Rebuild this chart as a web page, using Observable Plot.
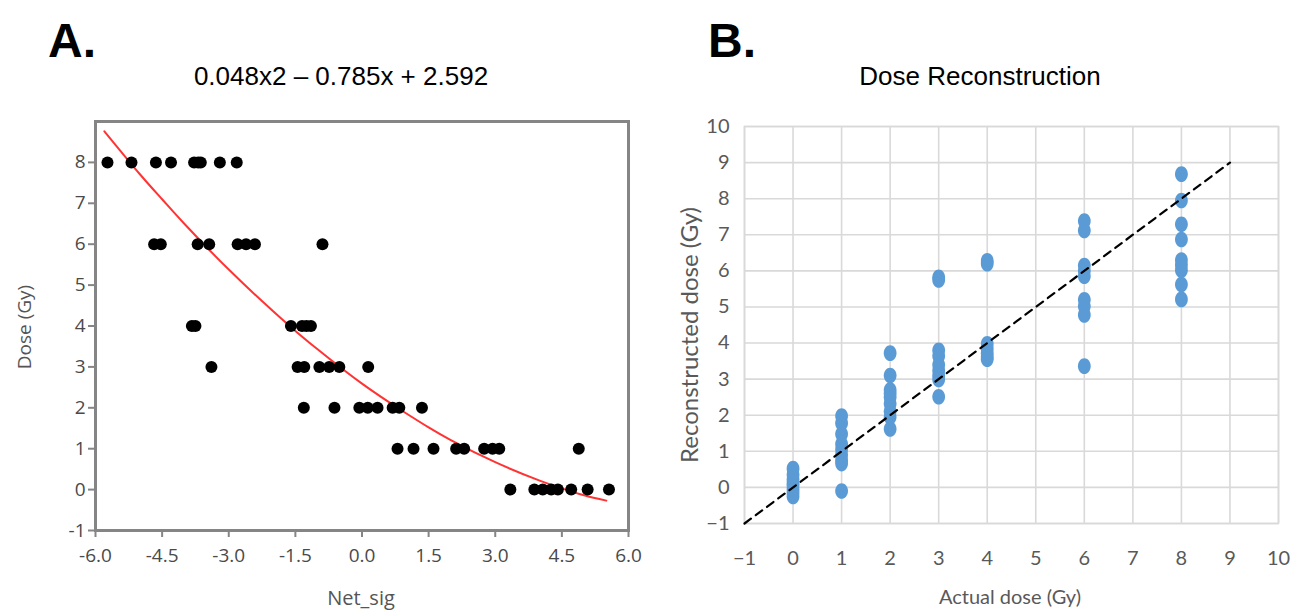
<!DOCTYPE html>
<html>
<head>
<meta charset="utf-8">
<script src="https://cdn.jsdelivr.net/npm/d3@7"></script>
<script src="https://cdn.jsdelivr.net/npm/@observablehq/plot@0.6"></script>
<style>
  html, body { margin: 0; padding: 0; background: white; }
  #wrap { position: relative; width: 1292px; height: 610px; overflow: hidden; background: white; }
  .abs { position: absolute; white-space: nowrap; transform: translate(-50%, -50%); }
  .panel { position: absolute; top: 0; }
</style>
</head>
<body>
<div id="wrap">
  <div id="panelA" class="panel" style="left:0px"></div>
  <div id="panelB" class="panel" style="left:646px"></div>
  <div class="abs" style="left:72px;top:40px;font:bold 48px 'Liberation Sans',Arial,sans-serif;color:#000">A.</div>
  <div class="abs" style="left:732px;top:40px;font:bold 48px 'Liberation Sans',Arial,sans-serif;color:#000">B.</div>
  <div class="abs" style="left:341px;top:76px;font:26px 'Liberation Sans',Arial,sans-serif;color:#000">0.048x2 – 0.785x + 2.592</div>
  <div class="abs" style="left:980px;top:76px;font:26px 'Liberation Sans',Arial,sans-serif;color:#000">Dose Reconstruction</div>
  <div class="abs" style="left:24px;top:327px;transform:translate(-50%,-50%) rotate(-90deg);font:19px 'Open Sans',sans-serif;color:#555">Dose (Gy)</div>
  <div class="abs" style="left:361px;top:597px;font:20px 'Open Sans',sans-serif;color:#555">Net_sig</div>
  <div class="abs" style="left:688px;top:335px;transform:translate(-50%,-50%) rotate(-90deg);font:24px Lato,sans-serif;color:#595959">Reconstructed dose (Gy)</div>
  <div class="abs" style="left:1010px;top:596px;font:20px Lato,sans-serif;color:#595959">Actual dose (Gy)</div>
</div>
<script>
// ---------- Panel A data ----------
const netSig = [
  -5.73, -5.19, -4.64, -4.30, -3.78, -3.69, -3.63, -3.20, -2.82,
  -4.68, -4.53, -3.70, -3.44, -2.80, -2.61, -2.41, -0.89,
  -3.83, -3.75, -1.60, -1.35, -1.25, -1.15,
  -3.39, -1.45, -1.30, -0.96, -0.74, -0.51, 0.14,
  -1.31, -0.62, -0.06, 0.13, 0.35, 0.69, 0.84, 1.35,
  0.80, 1.16, 1.61, 2.12, 2.30, 2.75, 2.94, 3.09, 4.88,
  3.34, 3.88, 4.07, 4.26, 4.41, 4.71, 5.08, 5.56
];
const doseA = [
  8, 8, 8, 8, 8, 8, 8, 8, 8,
  6, 6, 6, 6, 6, 6, 6, 6,
  4, 4, 4, 4, 4, 4,
  3, 3, 3, 3, 3, 3, 3,
  2, 2, 2, 2, 2, 2, 2, 2,
  1, 1, 1, 1, 1, 1, 1, 1, 1,
  0, 0, 0, 0, 0, 0, 0, 0
];
// fitted curve
const fitX = [-5.8, -5.0, -4.5, -4.0, -3.0, -2.0, -1.5, -1.0, 0.0, 1.0, 1.5, 2.0, 3.0, 4.0, 4.5, 5.0, 5.5];
const fitY = [8.76, 7.71, 7.10, 6.50, 5.38, 4.36, 3.88, 3.43, 2.59, 1.86, 1.52, 1.21, 0.67, 0.22, 0.03, -0.14, -0.27];
const xTicksA = [-6, -4.5, -3, -1.5, 0, 1.5, 3, 4.5, 6];
const yTicksA = [-1, 0, 1, 2, 3, 4, 5, 6, 7, 8];

// ---------- Panel B data ----------
const actualDose = [
  0, 0, 0, 0, 0, 0, 0, 0,
  1, 1, 1, 1, 1, 1, 1, 1, 1,
  2, 2, 2, 2, 2, 2, 2, 2, 2,
  3, 3, 3, 3, 3, 3, 3, 3, 3,
  4, 4, 4, 4, 4, 4, 4,
  6, 6, 6, 6, 6, 6, 6, 6, 6,
  8, 8, 8, 8, 8, 8, 8, 8, 8
];
const reconDose = [
  0.52, 0.35, 0.22, 0.12, 0.05, -0.05, -0.15, -0.25,
  1.98, 1.78, 1.48, 1.20, 1.05, 0.90, 0.75, 0.66, -0.10,
  3.72, 3.10, 2.70, 2.60, 2.50, 2.32, 2.10, 1.95, 1.62,
  5.82, 5.75, 3.80, 3.64, 3.40, 3.24, 3.10, 2.99, 2.51,
  6.28, 6.20, 3.98, 3.85, 3.72, 3.62, 3.55,
  7.38, 7.12, 6.15, 6.00, 5.85, 5.20, 5.02, 4.78, 3.36,
  8.68, 7.95, 7.29, 6.87, 6.30, 6.16, 6.02, 5.62, 5.21
];
const identityX = [-1, 9];
const identityY = [-1, 9];
const ticksB = [-1, 0, 1, 2, 3, 4, 5, 6, 7, 8, 9, 10];

// ---------- Panel A ----------
const ptsA = netSig.map((x, i) => ({x, y: doseA[i]}));
const fitA = fitX.map((x, i) => ({x, y: fitY[i]}));
const gray = "#858585";
const chartA = Plot.plot({
  width: 646, height: 610,
  marginLeft: 95, marginRight: 18, marginTop: 121, marginBottom: 80,
  x: {domain: [-6, 6], label: null},
  y: {domain: [-1, 9], label: null},
  style: {fontFamily: "'Open Sans', sans-serif", fontSize: "19px", color: "#4a4a4a", background: "white"},
  marks: [
    Plot.line(fitA, {x: "x", y: "y", stroke: "#ff3333", strokeWidth: 2, curve: "natural"}),
    Plot.dot(ptsA, {x: "x", y: "y", r: 6, fill: "#000", stroke: "none"}),
    Plot.frame({stroke: gray, strokeWidth: 3}),
    Plot.axisX({ticks: xTicksA, tickFormat: d => d.toFixed(1), tickSize: 7, tickPadding: 11, stroke: gray, strokeWidth: 2, fill: "#4a4a4a", fontSize: 19}),
    Plot.axisY({ticks: yTicksA, tickFormat: d => String(d), tickSize: 7, tickPadding: 3, stroke: gray, strokeWidth: 2, fill: "#4a4a4a", fontSize: 19})
  ]
});
document.getElementById("panelA").appendChild(chartA);

// ---------- Panel B ----------
const ellipse = {
  draw(ctx) {
    const rx = 6.4, ry = 7.8, k = 0.5523;
    ctx.moveTo(rx, 0);
    ctx.bezierCurveTo(rx, ry * k, rx * k, ry, 0, ry);
    ctx.bezierCurveTo(-rx * k, ry, -rx, ry * k, -rx, 0);
    ctx.bezierCurveTo(-rx, -ry * k, -rx * k, -ry, 0, -ry);
    ctx.bezierCurveTo(rx * k, -ry, rx, -ry * k, rx, 0);
    ctx.closePath();
  }
};
const ptsB = actualDose.map((x, i) => ({x, y: reconDose[i]}));
const lineB = identityX.map((x, i) => ({x, y: identityY[i]}));
const gridC = "#d9d9d9";
const chartB = Plot.plot({
  width: 646, height: 610,
  marginLeft: 98, marginRight: 14, marginTop: 126, marginBottom: 87,
  x: {domain: [-1, 10], label: null},
  y: {domain: [-1, 10], label: null},
  style: {fontFamily: "Lato, sans-serif", fontSize: "20px", color: "#595959", background: "white"},
  marks: [
    Plot.gridX({ticks: ticksB, stroke: gridC, strokeOpacity: 1, strokeWidth: 1.6}),
    Plot.gridY({ticks: ticksB, stroke: gridC, strokeOpacity: 1, strokeWidth: 1.6}),
    Plot.frame({stroke: gridC, strokeWidth: 1.6}),
    Plot.dot(ptsB, {x: "x", y: "y", symbol: ellipse, fill: "#5b9bd5", stroke: "none"}),
    Plot.line(lineB, {x: "x", y: "y", stroke: "#000", strokeWidth: 2.2, strokeDasharray: "8,6"}),
    Plot.axisX({ticks: ticksB, tickSize: 0, tickPadding: 27, fill: "#595959", fontSize: 20}),
    Plot.axisY({ticks: ticksB, tickSize: 0, tickPadding: 15, fill: "#595959", fontSize: 20})
  ]
});
document.getElementById("panelB").appendChild(chartB);
</script>
</body>
</html>
